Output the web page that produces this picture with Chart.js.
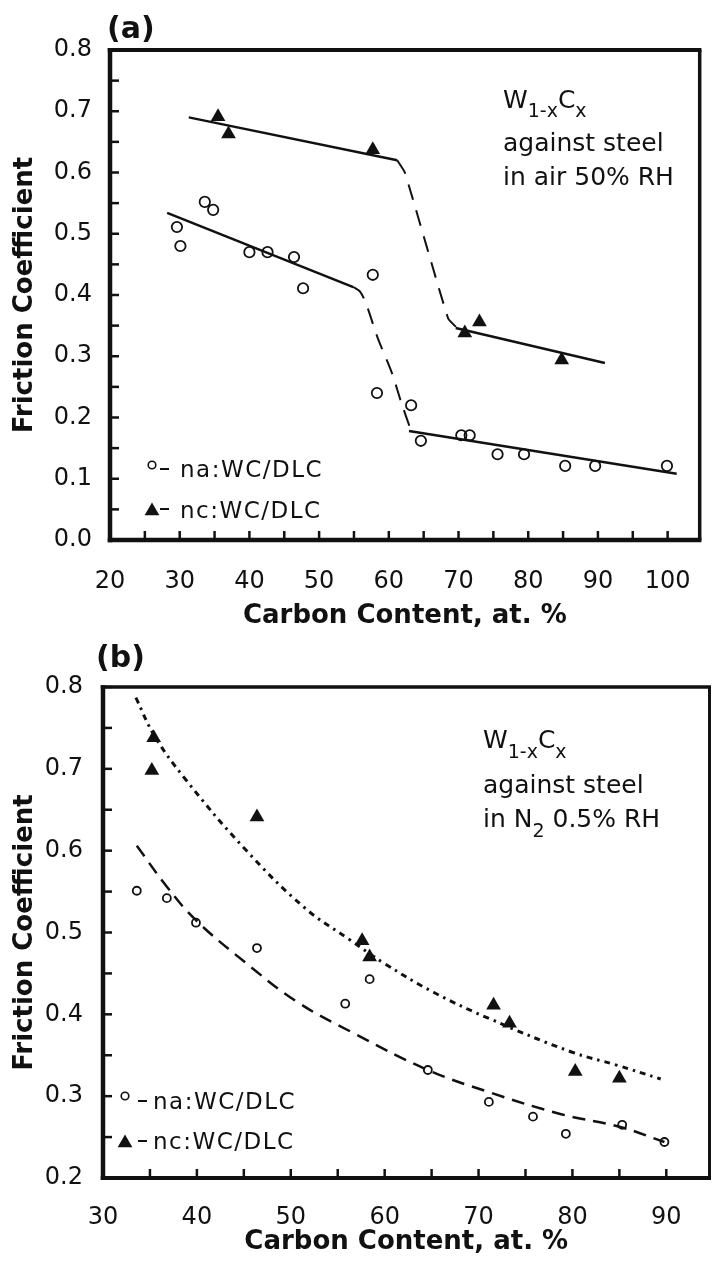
<!DOCTYPE html>
<html>
<head>
<meta charset="utf-8">
<script src="https://cdn.jsdelivr.net/npm/chart.js@4.4.1/dist/chart.umd.min.js"></script>
<style>
  html, body { margin: 0; padding: 0; background: #fff; }
  #wrap { position: relative; width: 718px; height: 1268px; }
  .panel { position: absolute; left: 0; width: 718px; }
  #panelA { top: 0; height: 635px; }
  #panelB { top: 635px; height: 633px; }
</style>
</head>
<body>
<div id="wrap">
  <div class="panel" id="panelA"><canvas id="chartA" width="718" height="635"></canvas></div>
  <div class="panel" id="panelB"><canvas id="chartB" width="718" height="633"></canvas></div>
</div>
<script>
// ---- panel (a): in air 50% RH ----
const naAirX = [29.6, 30.1, 33.6, 34.8, 40.0, 42.6, 46.4, 47.7, 57.7, 58.3, 63.2, 64.6, 70.4, 71.6, 75.6, 79.4, 85.3, 89.6, 99.9];
const naAirY = [0.511, 0.480, 0.552, 0.539, 0.470, 0.470, 0.462, 0.411, 0.433, 0.240, 0.220, 0.162, 0.171, 0.171, 0.140, 0.140, 0.121, 0.121, 0.121];
const ncAirX = [35.5, 37.0, 57.7, 70.9, 73.0, 84.8];
const ncAirY = [0.691, 0.663, 0.637, 0.338, 0.356, 0.294];

// fitted lines (a)
const naFit1X = [28.2, 54.9];
const naFit1Y = [0.534, 0.413];
const naStepX = [54.9, 55.9, 56.8, 58.4, 60.4, 61.8, 63.2];
const naStepY = [0.413, 0.405, 0.384, 0.330, 0.274, 0.224, 0.178];
const naFit2X = [62.9, 101.3];
const naFit2Y = [0.178, 0.108];
const ncFit1X = [31.3, 61.2];
const ncFit1Y = [0.690, 0.620];
const ncStepX = [61.2, 62.3, 68.5, 69.8];
const ncStepY = [0.620, 0.600, 0.362, 0.346];
const ncFit2X = [69.6, 91.0];
const ncFit2Y = [0.346, 0.289];

// ---- panel (b): in N2 0.5% RH ----
const naN2X = [33.6, 36.8, 39.9, 46.4, 55.8, 58.4, 64.6, 71.1, 75.8, 79.3, 85.3, 89.8];
const naN2Y = [0.551, 0.542, 0.512, 0.481, 0.413, 0.443, 0.332, 0.293, 0.275, 0.254, 0.265, 0.244];
const ncN2X = [35.4, 35.2, 46.4, 57.6, 58.4, 71.6, 73.3, 80.3, 85.0];
const ncN2Y = [0.738, 0.698, 0.641, 0.490, 0.470, 0.411, 0.389, 0.330, 0.322];

// fitted curves (b)
const ncCurveX = [33.5, 35.5, 38.8, 45.2, 51.5, 56.3, 60.0, 65.2, 71.1, 79.9, 84.7, 89.4];
const ncCurveY = [0.787, 0.740, 0.687, 0.601, 0.530, 0.491, 0.462, 0.427, 0.395, 0.354, 0.338, 0.321];
const naCurveX = [33.6, 36.8, 39.9, 45.2, 50.7, 56.7, 64.6, 71.1, 78.8, 85.2, 89.8];
const naCurveY = [0.606, 0.556, 0.515, 0.463, 0.415, 0.377, 0.332, 0.305, 0.278, 0.262, 0.244];

// tick labels
const xTicksA = [20, 30, 40, 50, 60, 70, 80, 90, 100];
const yTicksA = [0, 0.1, 0.2, 0.3, 0.4, 0.5, 0.6, 0.7, 0.8];
const xTicksB = [30, 40, 50, 60, 70, 80, 90];
const yTicksB = [0.2, 0.3, 0.4, 0.5, 0.6, 0.7, 0.8];

const legendNames = ['na:WC/DLC', 'nc:WC/DLC'];

const ink = '#111';
const fam = '"DejaVu Sans", Verdana, sans-serif';

function zip(xs, ys) {
    return xs.map((v, i) => ({x: v, y: ys[i]}));
}

function pts(xs, ys, style, r) {
    return {
        data: zip(xs, ys), showLine: false, pointStyle: style, pointRadius: r,
        pointBorderWidth: style === 'circle' ? 1.8 : 0,
        pointBorderColor: ink,
        pointBackgroundColor: style === 'circle' ? 'rgba(0,0,0,0)' : ink,
    };
}

function line(xs, ys, width, dash, tension) {
    return {
        data: zip(xs, ys), showLine: true, pointRadius: 0, borderColor: ink,
        borderWidth: width, borderDash: dash || [], tension: tension || 0, fill: false,
    };
}

// draws the frame, inward ticks, panel letter, legend and the note
const panelDeco = {
    id: 'panelDeco',
    afterDraw(chart, args, o) {
        const {ctx, chartArea: a, scales: {x, y}} = chart;
        ctx.save();
        ctx.strokeStyle = ink;
        ctx.fillStyle = ink;
        ctx.lineCap = 'butt';

        // minor ticks pointing into the plot
        ctx.lineWidth = 2.5;
        for (let i = 0; ; i++) {
            const v = o.xFrom + i * o.xStep;
            if (v > x.max + 1e-9) break;
            const px = x.getPixelForValue(v);
            ctx.beginPath(); ctx.moveTo(px, a.bottom); ctx.lineTo(px, a.bottom - 9); ctx.stroke();
        }
        for (let i = 0; ; i++) {
            const v = o.yFrom + i * o.yStep;
            if (v > y.max + 1e-9) break;
            const py = y.getPixelForValue(v);
            ctx.beginPath(); ctx.moveTo(a.left, py); ctx.lineTo(a.left + 9, py); ctx.stroke();
        }

        // frame
        const f = o.frame;
        const seg = (x1, y1, x2, y2, w) => {
            ctx.lineWidth = w; ctx.beginPath(); ctx.moveTo(x1, y1); ctx.lineTo(x2, y2); ctx.stroke();
        };
        seg(a.left - f.left / 2, a.top, a.right + f.right / 2, a.top, f.top);
        seg(a.right, a.top, a.right, a.bottom, f.right);
        seg(a.left - f.left / 2, a.bottom, a.right + f.right / 2, a.bottom, f.bottom);
        seg(a.left, a.top - f.top / 2, a.left, a.bottom + f.bottom / 2, f.left);

        // panel letter
        ctx.font = 'bold 30px ' + fam;
        ctx.textBaseline = 'alphabetic';
        ctx.textAlign = 'left';
        ctx.fillText(o.letter.text, o.letter.x, o.letter.y);

        // legend
        const L = o.legend;
        ctx.font = '23px ' + fam;
        ctx.letterSpacing = '1.5px';
        L.rows.forEach((row, i) => {
            const my = row.markerY;
            ctx.lineWidth = 1.6;
            if (i === 0) {
                ctx.beginPath(); ctx.arc(L.markerX, my, 3.8, 0, Math.PI * 2); ctx.stroke();
            } else {
                const r = 8.5;
                ctx.beginPath();
                ctx.moveTo(L.markerX, my - r);
                ctx.lineTo(L.markerX + r * 0.866, my + r / 2);
                ctx.lineTo(L.markerX - r * 0.866, my + r / 2);
                ctx.closePath(); ctx.fill();
            }
            ctx.lineWidth = 2;
            ctx.beginPath(); ctx.moveTo(L.dashX, row.dashY); ctx.lineTo(L.dashX + 9, row.dashY); ctx.stroke();
            ctx.fillText(legendNames[i], L.textX, row.base);
        });
        ctx.letterSpacing = '0px';

        // note with subscripts
        const N = o.note;
        N.lines.forEach((parts, i) => {
            let cx = N.x;
            parts.forEach(([t, kind]) => {
                if (kind === 's') {
                    ctx.font = '19px ' + fam;
                    ctx.fillText(t, cx, N.base[i] + N.subDrop);
                } else {
                    ctx.font = '25px ' + fam;
                    ctx.fillText(t, cx, N.base[i]);
                }
                cx += ctx.measureText(t).width;
            });
        });
        ctx.restore();
    }
};

function axes(cfg) {
    return {
        x: {
            type: 'linear', min: cfg.xMin, max: cfg.xMax,
            afterBuildTicks: s => { s.ticks = cfg.xTicks.map(v => ({value: v})); },
            afterFit: s => { s.height = cfg.xHeight; },
            grid: {display: false, drawTicks: false},
            border: {display: false},
            ticks: {
                color: ink, font: {family: fam, size: 24}, padding: cfg.xPad,
                maxRotation: 0, autoSkip: false, callback: v => String(v)
            },
            title: {
                display: true, text: 'Carbon Content, at. %', color: ink,
                font: {family: fam, size: 26, weight: 'bold'},
                padding: {top: 0, bottom: cfg.xTitlePad}
            }
        },
        y: {
            type: 'linear', min: cfg.yMin, max: cfg.yMax,
            afterBuildTicks: s => { s.ticks = cfg.yTicks.map(v => ({value: v})); },
            afterFit: s => { s.width = cfg.yWidth; },
            grid: {display: false, drawTicks: false},
            border: {display: false},
            ticks: {
                color: ink, font: {family: fam, size: 24}, padding: cfg.yPad,
                autoSkip: false, callback: v => v.toFixed(1)
            },
            title: {
                display: true, text: 'Friction Coefficient', color: ink,
                font: {family: fam, size: 26, weight: 'bold'},
                padding: {top: 10, bottom: 0}
            }
        }
    };
}

new Chart(document.getElementById('chartA'), {
    type: 'scatter',
    data: {
        datasets: [
            line(naFit1X, naFit1Y, 2.5),
            line(naStepX, naStepY, 2, [16, 11], 0.3),
            line(naFit2X, naFit2Y, 2.5),
            line(ncFit1X, ncFit1Y, 2.5),
            line(ncStepX, ncStepY, 2, [16, 11], 0.15),
            line(ncFit2X, ncFit2Y, 2.5),
            pts(naAirX, naAirY, 'circle', 5.2),
            pts(ncAirX, ncAirY, 'triangle', 8.5),
        ]
    },
    options: {
        responsive: false, animation: false,
        layout: {padding: {left: 0, top: 50, right: 6, bottom: 0}},
        plugins: {
            legend: {display: false}, tooltip: {enabled: false},
            panelDeco: {
                xFrom: 20, xStep: 5, yFrom: 0, yStep: 0.05,
                frame: {left: 4.5, bottom: 4.5, top: 4, right: 3.5},
                letter: {text: '(a)', x: 107, y: 38},
                legend: {
                    markerX: 152, dashX: 160, textX: 180,
                    rows: [{markerY: 465, dashY: 469, base: 477}, {markerY: 511, dashY: 509, base: 518}]
                },
                note: {
                    x: 503, base: [108, 151, 185], subDrop: 9,
                    lines: [[['W', 'n'], ['1-x', 's'], ['C', 'n'], ['x', 's']],
                            [['against steel', 'n']],
                            [['in air 50% RH', 'n']]]
                }
            }
        },
        scales: axes({
            xMin: 20, xMax: 104.6, xTicks: xTicksA, xHeight: 95, xPad: 27, xTitlePad: 3,
            yMin: 0, yMax: 0.8, yTicks: yTicksA, yWidth: 110, yPad: 18
        })
    },
    plugins: [panelDeco]
});

new Chart(document.getElementById('chartB'), {
    type: 'scatter',
    data: {
        datasets: [
            line(ncCurveX, ncCurveY, 3, [6, 5, 2.5, 5], 0.4),
            line(naCurveX, naCurveY, 2.5, [13, 8], 0.4),
            pts(naN2X, naN2Y, 'circle', 4),
            pts(ncN2X, ncN2Y, 'triangle', 8.5),
        ]
    },
    options: {
        responsive: false, animation: false,
        layout: {padding: {left: 0, top: 52, right: 1.5, bottom: 0}},
        plugins: {
            legend: {display: false}, tooltip: {enabled: false},
            panelDeco: {
                xFrom: 30, xStep: 5, yFrom: 0.2, yStep: 0.05,
                frame: {left: 4.5, bottom: 4, top: 3.5, right: 3},
                letter: {text: '(b)', x: 96, y: 32},
                legend: {
                    markerX: 125, dashX: 138, textX: 153,
                    rows: [{markerY: 461, dashY: 466, base: 474}, {markerY: 508, dashY: 506, base: 514}]
                },
                note: {
                    x: 483, base: [113, 158, 192], subDrop: 10,
                    lines: [[['W', 'n'], ['1-x', 's'], ['C', 'n'], ['x', 's']],
                            [['against steel', 'n']],
                            [['in N', 'n'], ['2', 's'], [' 0.5% RH', 'n']]]
                }
            }
        },
        scales: axes({
            xMin: 30, xMax: 94.6, xTicks: xTicksB, xHeight: 90, xPad: 25, xTitlePad: 10,
            yMin: 0.2, yMax: 0.8, yTicks: yTicksB, yWidth: 103, yPad: 20
        })
    },
    plugins: [panelDeco]
});
</script>
</body>
</html>
